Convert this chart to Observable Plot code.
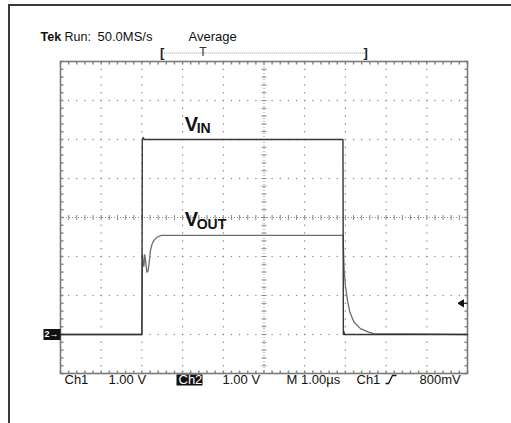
<!DOCTYPE html>
<html><head><meta charset="utf-8">
<script src="https://cdn.jsdelivr.net/npm/d3@7"></script>
<script src="https://cdn.jsdelivr.net/npm/@observablehq/plot@0.6"></script>
<style>
html,body{margin:0;padding:0;background:#fff;overflow:hidden}
#wrap{position:relative;width:511px;height:423px;overflow:hidden}
#border{position:absolute;left:8px;top:4px;width:540px;height:460px;border-top:2px solid #3a3a3a;border-left:2px solid #3a3a3a}
#chart{position:absolute;left:0;top:0}
</style></head><body>
<div id="wrap"><div id="border"></div><div id="chart"></div></div>
<script>
// Time in µs (1.00 µs/div), voltage in V relative to channel ground (1.00 V/div)
const vinTime = [0, 2.0, 2.01, 2.03, 2.06, 6.94, 6.95, 6.96, 6.98, 10];
const vinVolt = [0, 0, 4.95, 5.05, 5.0, 5.0, 0, 0.08, 0, 0];
const voutTime = [0, 2.0, 2.015, 2.035, 2.05, 2.07, 2.09, 2.12, 2.15, 2.18, 2.21, 2.25, 2.3, 2.38, 2.48,
                  6.945, 6.955, 6.97, 7.0, 7.05, 7.11, 7.21, 7.37, 7.57, 7.7, 10];
const voutVolt = [0, 0, 2.05, 1.8, 1.75, 2.05, 1.9, 1.6, 1.62, 1.85, 2.15, 2.32, 2.42, 2.5, 2.54,
                  2.54, 2.1, 1.64, 1.25, 0.88, 0.57, 0.32, 0.15, 0.06, 0.02, 0];
const timeDivs = [0, 1, 2, 3, 4, 5, 6, 7, 8, 9, 10];
const voltDivs = [-1, 0, 1, 2, 3, 4, 5, 6, 7];
const triggerLevel = 0.8;
const recordWindow = [2.5, 7.5];
const triggerPos = 3.5;
const traceLabels = [
  {name: "V", sub: "IN", t: 3.05, v: 5.22},
  {name: "V", sub: "OUT", t: 3.05, v: 2.78}
];
const header = ["Tek", "Run:", "50.0MS/s", "Average"];
const readouts = ["Ch1", "1.00 V", "Ch2", "1.00 V", "M 1.00µs", "Ch1", "800mV"];

const vin = vinTime.map((t, i) => ({t, v: vinVolt[i]}));
const vout = voutTime.map((t, i) => ({t, v: voutVolt[i]}));
const sub = 5; // minor ticks per division
const xMin = timeDivs[0], xMax = timeDivs[timeDivs.length - 1];
const yMin = voltDivs[0], yMax = voltDivs[voltDivs.length - 1];
const xCenter = (xMin + xMax) / 2, yCenter = (yMin + yMax) / 2;
const xFine = d3.range(xMin * sub, xMax * sub + 1).map(k => k / sub);
const yFine = d3.range(yMin * sub, yMax * sub + 1).map(k => k / sub);
const xInner = timeDivs.slice(1, -1).filter(d => d !== xCenter);
const yInner = voltDivs.slice(1, -1).filter(d => d !== yCenter);
const gridDots = [
  ...xInner.flatMap(x => yFine.map(y => ({x, y}))),
  ...yInner.flatMap(y => xFine.map(x => ({x, y})))
];
const seg = (x0, y0, x1, y1) => ({draw(c) { c.moveTo(x0, y0); c.lineTo(x1, y1); }});
const box = (w, h) => ({draw(c) { c.rect(-w / 2, -h / 2, w, h); }});
const tri = {draw(c) { c.moveTo(-3.5, 0); c.lineTo(2, -3.5); c.lineTo(2, 3.5); c.closePath(); c.moveTo(2, 0); c.lineTo(6, 0); }};
const edge = {draw(c) { c.moveTo(-6, 4); c.lineTo(-3, 4); c.lineTo(1, -4); c.lineTo(5, -4); }};
const font = "Liberation Sans, Arial, sans-serif";
const G = "#8a8a8a";

const readPos = [4, 48, 118, 162, 226, 296, 359];
const hdrPos = [-20, 4, 37, 128];
const hdrStyle = [
  {fontSize: 12.5, fontWeight: "bold", letterSpacing: "-0.4px"},
  {fontSize: 12.5, fontWeight: "normal", letterSpacing: "0.2px"},
  {fontSize: 13, fontWeight: "normal", letterSpacing: "1.8px"},
  {fontSize: 13, fontWeight: "normal", letterSpacing: "0.3px"}
];

const marks = [
  // dotted graticule
  Plot.dot(gridDots, {x: "x", y: "y", r: 0.75, fill: G, stroke: null}),
  Plot.ruleX([xCenter], {stroke: G, strokeDasharray: "1,2", strokeWidth: 1}),
  Plot.ruleY([yCenter], {stroke: G, strokeDasharray: "1,2", strokeWidth: 1}),
  Plot.dot(yFine, {x: () => xCenter, y: d => d, symbol: seg(-2.5, 0, 2.5, 0), r: 1, stroke: G, fill: "none", strokeWidth: 1}),
  Plot.dot(xFine, {y: () => yCenter, x: d => d, symbol: seg(0, -2.5, 0, 2.5), r: 1, stroke: G, fill: "none", strokeWidth: 1}),
  // frame minor ticks
  Plot.dot(xFine, {x: d => d, y: () => yMax, symbol: seg(0, 0, 0, 3), r: 1, stroke: G, fill: "none"}),
  Plot.dot(xFine, {x: d => d, y: () => yMin, symbol: seg(0, 0, 0, -3), r: 1, stroke: G, fill: "none"}),
  Plot.dot(yFine, {y: d => d, x: () => xMin, symbol: seg(0, 0, 3, 0), r: 1, stroke: G, fill: "none"}),
  Plot.dot(yFine, {y: d => d, x: () => xMax, symbol: seg(0, 0, -3, 0), r: 1, stroke: G, fill: "none"}),
  Plot.frame({stroke: "#7a7a7a", strokeWidth: 1.6}),
  // traces
  Plot.line(vout, {x: "t", y: "v", stroke: "#6e6e6e", strokeWidth: 1.3}),
  Plot.line(vin, {x: "t", y: "v", stroke: "#353535", strokeWidth: 1.4}),
  // trace labels
  Plot.text(traceLabels, {x: "t", y: "v", text: "name", textAnchor: "start", lineAnchor: "bottom", fontSize: 20, fontWeight: "bold", fontFamily: font, fill: "#111"}),
  Plot.text(traceLabels, {x: "t", y: "v", text: "sub", textAnchor: "start", lineAnchor: "bottom", dx: 12, dy: 2.5, fontSize: 14, fontWeight: "bold", fontFamily: font, fill: "#111"}),
  // ground marker "2->"
  Plot.dot([0], {x: () => xMin, y: () => 0, dx: -8.5, symbol: box(17, 11), r: 1, fill: "#111", stroke: null}),
  Plot.text(["2→"], {x: () => xMin, y: () => 0, dx: -9, text: d => d, fill: "#fff", fontSize: 9, fontWeight: "bold", fontFamily: font}),
  // trigger level arrow
  Plot.dot([triggerLevel], {x: () => xMax, y: d => d, dx: -6, symbol: tri, r: 1, fill: "#111", stroke: "#111", strokeWidth: 1}),
  // record window bracket
  Plot.link([recordWindow], {x1: d => d[0], x2: d => d[1], y1: () => yMax, y2: () => yMax, dy: -8.5, stroke: "#999", strokeDasharray: "1,1", strokeWidth: 1}),
  Plot.text(["[", "]"], {x: (d, i) => recordWindow[i], y: () => yMax, dy: -9, text: d => d, fontSize: 13, fontWeight: "bold", fontFamily: font, fill: "#222", textAnchor: "middle"}),
  Plot.text(["T"], {x: () => triggerPos, y: () => yMax, dy: -9, text: d => d, fontSize: 12, fontFamily: font, fill: "#333", textAnchor: "middle"})
];
// header
header.forEach((h, i) => marks.push(Plot.text([h], {frameAnchor: "top-left", dx: hdrPos[i], dy: -21, text: d => d, textAnchor: "start", lineAnchor: "bottom", fontFamily: font, fill: "#111", ...hdrStyle[i]})));
// readouts
marks.push(Plot.dot([0], {frameAnchor: "bottom-left", dx: readPos[2] + 11, dy: 6.5, symbol: box(26, 11), r: 1, fill: "#111", stroke: null}));
readouts.forEach((r, i) => marks.push(Plot.text([r], {frameAnchor: "bottom-left", dx: readPos[i], dy: 10, text: d => d, textAnchor: "start", lineAnchor: "bottom", fontSize: 13, fontFamily: font, fill: i === 2 ? "#fff" : "#111", letterSpacing: "0.5px"})));
marks.push(Plot.dot([0], {frameAnchor: "bottom-left", dx: 331, dy: 6, symbol: edge, r: 1, fill: "none", stroke: "#111", strokeWidth: 1.3}));

const chart = Plot.plot({
  width: 511, height: 423,
  marginLeft: 60, marginRight: 44, marginTop: 61, marginBottom: 50,
  x: {domain: [xMin, xMax], axis: null},
  y: {domain: [yMin, yMax], axis: null},
  style: {background: "transparent", overflow: "visible"},
  marks
});
document.getElementById("chart").append(chart);
</script>
</body></html>
